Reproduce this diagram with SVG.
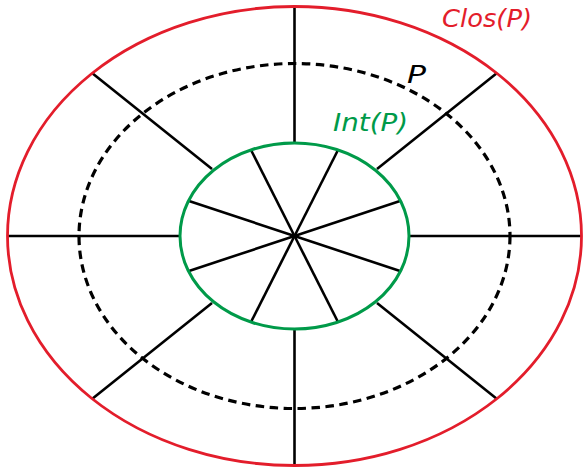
<svg xmlns="http://www.w3.org/2000/svg" width="583" height="468" viewBox="0 0 583 468">
<style>
.sp{stroke:#000;stroke-width:2.6;fill:none;stroke-linecap:butt}
.lbl{font-family:"DejaVu Sans","Liberation Sans",sans-serif;font-style:italic;font-size:25px}
</style>
<rect width="583" height="468" fill="#fff"/>
<g id="connectors">
<line class="sp" x1="294.5" y1="236" x2="251" y2="150"/>
<line class="sp" x1="294.5" y1="236" x2="338" y2="150"/>
<line class="sp" x1="294.5" y1="236" x2="189" y2="201"/>
<line class="sp" x1="294.5" y1="236" x2="400" y2="201"/>
<line class="sp" x1="294.5" y1="236" x2="189" y2="271"/>
<line class="sp" x1="294.5" y1="236" x2="400" y2="271"/>
<line class="sp" x1="294.5" y1="236" x2="251" y2="322"/>
<line class="sp" x1="294.5" y1="236" x2="338" y2="322"/>
<line class="sp" x1="294.5" y1="7" x2="294.5" y2="143"/>
<line class="sp" x1="294.5" y1="329" x2="294.5" y2="465"/>
<line class="sp" x1="7" y1="236" x2="180" y2="236"/>
<line class="sp" x1="409" y1="236" x2="581" y2="236"/>
<line class="sp" x1="92" y1="73" x2="212" y2="169"/>
<line class="sp" x1="497" y1="73" x2="377" y2="169"/>
<line class="sp" x1="92" y1="399" x2="212" y2="303"/>
<line class="sp" x1="497" y1="399" x2="377" y2="303"/>
</g>
<g id="closure">
<ellipse cx="294.5" cy="236" rx="287" ry="229.5" fill="none" stroke="#e31d2b" stroke-width="2.8"/>
<text class="lbl" x="442" y="27" fill="#e31d2b" textLength="90" lengthAdjust="spacingAndGlyphs">Clos(P)</text>
</g>
<g id="set-p">
<ellipse cx="294.5" cy="236" rx="215.5" ry="172.5" fill="none" stroke="#000" stroke-width="3.2" stroke-dasharray="8.5 5.5"/>
<text class="lbl" x="407" y="83" fill="#000" textLength="19" lengthAdjust="spacingAndGlyphs">P</text>
</g>
<g id="interior">
<ellipse cx="294.5" cy="236" rx="114.5" ry="93" fill="none" stroke="#009a49" stroke-width="3"/>
<text class="lbl" x="333" y="131" fill="#009a49" textLength="75" lengthAdjust="spacingAndGlyphs">Int(P)</text>
</g>
</svg>
